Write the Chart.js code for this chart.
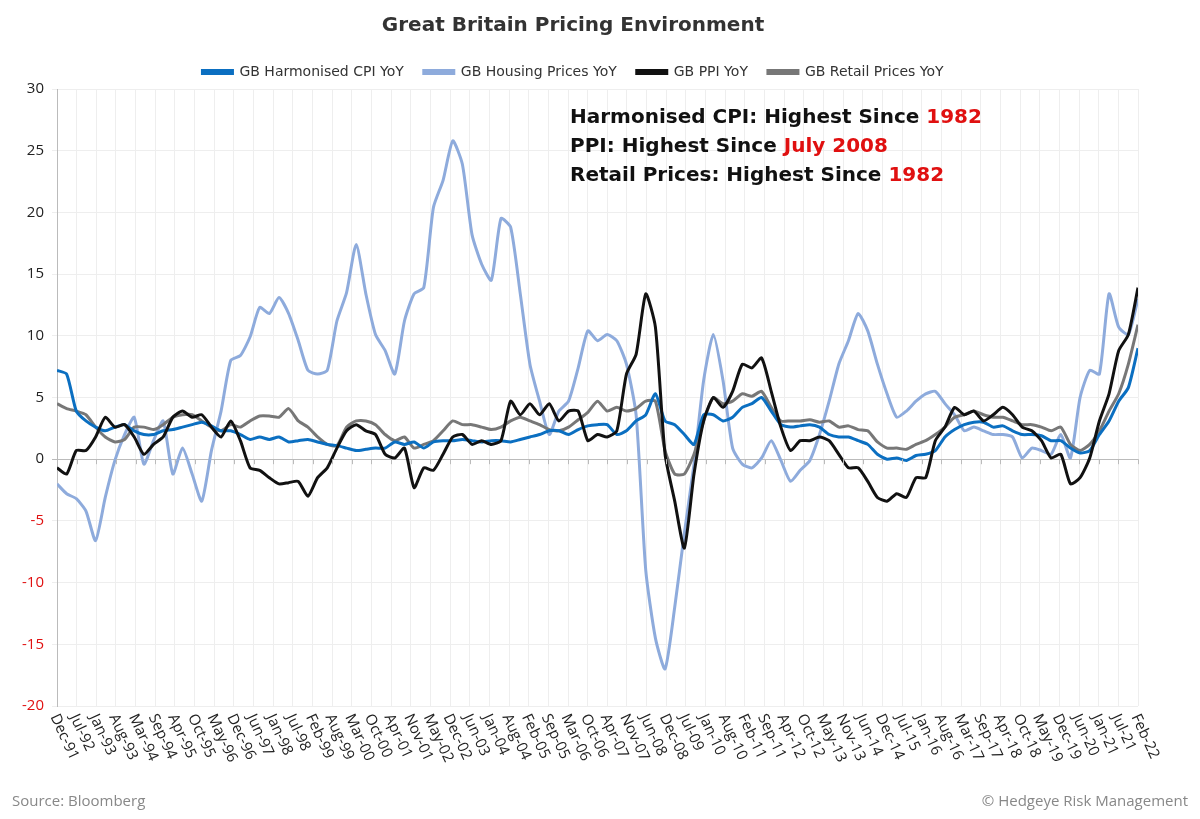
<!DOCTYPE html>
<html><head><meta charset="utf-8">
<script src="https://cdn.jsdelivr.net/npm/chart.js@4"></script>
<style>html,body{margin:0;padding:0;background:#fff}#wrap{width:1200px;height:819px;position:relative}</style>
</head><body><div id="wrap"><canvas id="c" width="1200" height="819"></canvas></div>
<script>
const tickLabels = ["Dec-91","Jul-92","Jan-93","Aug-93","Mar-94","Sep-94","Apr-95","Oct-95","May-96","Dec-96","Jun-97","Jan-98","Jul-98","Feb-99","Aug-99","Mar-00","Oct-00","Apr-01","Nov-01","May-02","Dec-02","Jun-03","Jan-04","Aug-04","Feb-05","Sep-05","Mar-06","Oct-06","Apr-07","Nov-07","Jun-08","Dec-08","Jul-09","Jan-10","Aug-10","Feb-11","Sep-11","Apr-12","Oct-12","May-13","Nov-13","Jun-14","Dec-14","Jul-15","Jan-16","Aug-16","Mar-17","Sep-17","Apr-18","Oct-18","May-19","Dec-19","Jun-20","Jan-21","Jul-21","Feb-22"];
// series sampled at 113 evenly spaced points from Dec-91 to Feb-22
const cpi = [7.2,6.9,3.9,3.1,2.6,2.3,2.6,2.8,2.3,2.0,2.0,2.3,2.4,2.6,2.8,3.0,2.7,2.3,2.3,2.0,1.6,1.8,1.6,1.8,1.4,1.5,1.6,1.4,1.2,1.1,0.9,0.7,0.8,0.9,0.9,1.4,1.2,1.4,0.9,1.4,1.5,1.5,1.6,1.5,1.4,1.5,1.5,1.4,1.6,1.8,2.0,2.3,2.3,2.0,2.4,2.7,2.8,
 2.8,2.0,2.3,3.1,3.6,5.3,3.1,2.8,2.0,1.2,3.6,3.6,3.1,3.4,4.2,4.5,5.0,3.9,2.8,2.6,2.7,2.8,2.6,2.0,1.8,1.8,1.5,1.2,0.4,0.0,0.1,-0.1,0.3,0.4,0.7,1.8,2.4,2.8,3.0,3.0,2.6,2.7,2.3,2.0,2.0,1.9,1.5,1.5,0.9,0.5,0.7,2.0,3.1,4.7,5.8,9.0];
const housing = [-2.0,-2.8,-3.2,-4.2,-6.6,-3.1,-0.1,2.0,3.4,-0.4,1.5,3.1,-1.2,0.9,-1.2,-3.4,0.7,3.9,8.0,8.4,9.9,12.3,11.8,13.1,11.8,9.6,7.2,6.9,7.2,11.2,13.5,17.4,13.4,10.1,8.8,6.9,11.2,13.4,13.9,20.4,22.6,25.8,23.9,18.2,15.8,14.5,19.5,18.8,13.4,7.7,4.7,2.0,3.9,4.7,7.4,10.4,9.6,
 10.1,9.6,7.7,3.6,-9.0,-14.5,-17.0,-12.0,-6.0,-0.4,6.4,10.1,6.4,0.9,-0.4,-0.7,0.1,1.5,-0.1,-1.8,-0.9,-0.1,2.0,4.7,7.7,9.6,11.8,10.4,7.7,5.3,3.4,3.9,4.7,5.3,5.5,4.5,3.6,2.3,2.6,2.3,2.0,2.0,1.8,0.1,0.9,0.7,0.4,2.0,0.1,5.0,7.2,6.9,13.4,10.7,10.1,13.0];
const ppi = [-0.7,-1.2,0.7,0.7,1.8,3.4,2.6,2.8,1.8,0.4,1.2,1.8,3.4,3.9,3.4,3.6,2.6,1.8,3.1,1.5,-0.7,-0.9,-1.5,-2.0,-1.9,-1.8,-3.0,-1.5,-0.7,0.9,2.3,2.8,2.3,2.0,0.4,0.1,0.9,-2.3,-0.7,-0.9,0.4,1.8,2.0,1.2,1.5,1.2,1.5,4.7,3.6,4.5,3.6,4.5,3.1,3.9,3.9,1.5,2.0,
 1.8,2.3,6.9,8.5,13.4,10.7,0.4,-3.4,-7.2,-1.2,3.1,5.0,4.2,5.5,7.7,7.4,8.2,5.5,2.6,0.7,1.5,1.5,1.8,1.5,0.4,-0.7,-0.7,-1.8,-3.1,-3.4,-2.8,-3.1,-1.5,-1.5,1.5,2.6,4.2,3.6,3.9,3.1,3.6,4.2,3.6,2.6,2.3,1.5,0.1,0.4,-2.0,-1.5,0.1,3.1,5.3,8.8,10.1,13.9];
const retail = [4.5,4.1,3.9,3.6,2.6,1.8,1.4,1.6,2.6,2.6,2.4,2.8,3.4,3.6,3.6,3.1,2.6,2.3,2.8,2.6,3.1,3.5,3.5,3.4,4.1,3.1,2.6,1.8,1.2,1.1,2.6,3.1,3.1,2.8,2.0,1.5,1.8,0.9,1.2,1.5,2.3,3.1,2.8,2.8,2.6,2.4,2.6,3.1,3.4,3.1,2.8,2.4,2.3,2.6,3.2,3.8,4.7,
 3.9,4.2,3.9,4.1,4.7,4.7,0.7,-1.2,-1.2,0.4,3.1,5.0,4.5,4.7,5.3,5.1,5.5,4.2,3.1,3.1,3.1,3.2,3.0,3.1,2.6,2.7,2.4,2.3,1.4,0.9,0.9,0.8,1.2,1.5,2.0,2.6,3.4,3.6,3.9,3.6,3.4,3.4,3.1,2.8,2.8,2.6,2.3,2.6,1.2,0.7,1.2,2.3,3.9,5.3,7.7,10.9];
const yTicks = [-20,-15,-10,-5,0,5,10,15,20,25,30];

const LAST = tickLabels.length-1;
const pts = a => a.map((v,i)=>({x:i*LAST/(a.length-1),y:v}));
const FONT = "'Open Sans', sans-serif";
const WIDE = "'DejaVu Sans', sans-serif";

const overlay = {
  id:'overlay',
  afterDraw(chart){
    const {ctx, scales:{x,y}} = chart;
    ctx.save();
    ctx.fillStyle='#222'; ctx.font='15px '+FONT; ctx.textAlign='left'; ctx.textBaseline='middle';
    tickLabels.forEach((t,i)=>{
      const px=x.getPixelForValue(i);
      ctx.save(); ctx.translate(px-3, y.bottom+9); ctx.rotate(65*Math.PI/180); ctx.fillText(t,0,0); ctx.restore();
    });
    const y0=y.getPixelForValue(0);
    ctx.strokeStyle='#bbb'; ctx.lineWidth=1;
    tickLabels.forEach((t,i)=>{const px=Math.round(x.getPixelForValue(i))+0.5;ctx.beginPath();ctx.moveTo(px,y0);ctx.lineTo(px,y0+5);ctx.stroke();});
    ctx.font='bold 20px '+WIDE; ctx.textBaseline='middle';
    const lines=[["Harmonised CPI: Highest Since ","1982"],["PPI: Highest Since ","July 2008"],["Retail Prices: Highest Since ","1982"]];
    lines.forEach((l,i)=>{
      const yy=118+i*29; ctx.fillStyle='#111'; ctx.fillText(l[0],570,yy);
      const w=ctx.measureText(l[0]).width; ctx.fillStyle='#e01010'; ctx.fillText(l[1],570+w,yy);
    });
    ctx.font='15px '+FONT; ctx.fillStyle='#888'; ctx.textAlign='left';
    ctx.fillText('Source: Bloomberg',12,802);
    ctx.textAlign='right'; ctx.fillText('© Hedgeye Risk Management',1188,802);
    ctx.restore();
  }
};

const ds = (label,data,color,order)=>({label,data:pts(data),borderColor:color,backgroundColor:color,borderWidth:3,pointRadius:0,tension:0.2,order});
new Chart(document.getElementById('c'),{
  type:'line',
  data:{datasets:[
    ds('GB Harmonised CPI YoY',cpi,'#0b6fc1',2),
    ds('GB Housing Prices YoY',housing,'#8eabdc',4),
    ds('GB PPI YoY',ppi,'#111111',1),
    ds('GB Retail Prices YoY',retail,'#777777',3)
  ]},
  options:{
    responsive:false, animation:false,
    layout:{padding:{left:8,right:62,top:0,bottom:113}},
    plugins:{
      title:{display:true,text:'Great Britain Pricing Environment',color:'#333',font:{family:WIDE,size:20,weight:'bold'},padding:{top:14,bottom:7}},
      legend:{labels:{color:'#333',font:{family:WIDE,size:14},boxWidth:30,boxHeight:3,padding:20,sort:(a,b)=>a.datasetIndex-b.datasetIndex}},
      tooltip:{enabled:false}
    },
    scales:{
      x:{type:'linear',min:0,max:LAST,
        afterBuildTicks:s=>{s.ticks=tickLabels.map((t,i)=>({value:i}));},
        ticks:{display:false},
        grid:{color:'#eeeeee',drawTicks:false},
        border:{display:false}},
      y:{min:-20,max:30,
        afterBuildTicks:s=>{s.ticks=yTicks.map(v=>({value:v}));},
        afterFit:s=>{s.width=49;},
        ticks:{color:c=>c.tick.value<0?'#e01010':'#222',font:{family:FONT,size:15},padding:8},
        grid:{color:c=>c.tick.value===0?'#bbbbbb':'#eeeeee',drawTicks:true,tickLength:5},
        border:{color:'#bbb'}}
    }
  },
  plugins:[overlay]
});
</script></body></html>
